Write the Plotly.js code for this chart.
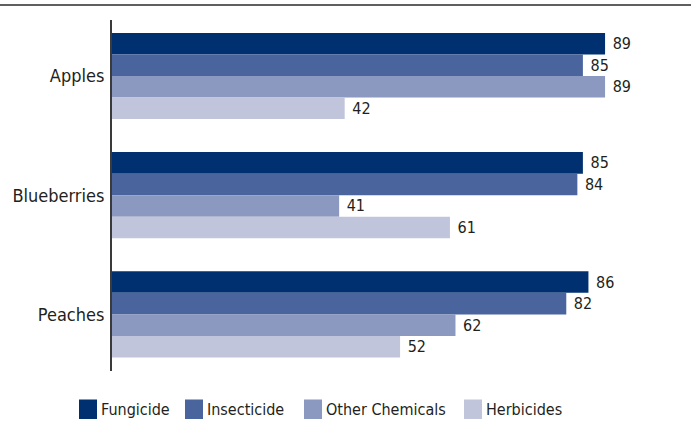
<!DOCTYPE html>
<html>
<head>
<meta charset="utf-8">
<script src="https://cdn.plot.ly/plotly-3.0.1.min.js"></script>
<style>html,body{margin:0;padding:0;background:#fff;}#chart{width:691px;height:441px;}
#chart text{font-stretch:condensed;}</style>
</head>
<body>
<div id="chart"></div>
<script>
const categories = ["Apples", "Blueberries", "Peaches"];
const seriesNames = ["Fungicide", "Insecticide", "Other Chemicals", "Herbicides"];
const fungicide = [89, 85, 86];
const insecticide = [85, 84, 82];
const otherChemicals = [89, 41, 62];
const herbicides = [42, 61, 52];
const seriesValues = [fungicide, insecticide, otherChemicals, herbicides];
const colors = ["#00306F", "#4A659D", "#8B98BF", "#C0C5DC"];

const FONT = "'DejaVu Sans Condensed', 'DejaVu Sans', sans-serif";
const TXT = "#231F20";

const W = 691, H = 441, ML = 112, MR = 25, MT = 20, MB = 70;
const PW = W - ML - MR, PH = H - MT - MB;
const px = x => (x - ML) / PW;
const py = y => (H - MB - y) / PH;

const traces = seriesNames.map((name, i) => ({
  type: "bar",
  orientation: "h",
  name: name,
  y: categories,
  x: seriesValues[i],
  text: seriesValues[i].map(v => "\u00a0" + v),
  textposition: "outside",
  cliponaxis: false,
  textfont: {family: FONT, size: 16, color: TXT},
  marker: {color: colors[i], line: {width: 0}},
  hoverinfo: "skip"
}));

// custom legend
const legendSquareX = [79, 185, 304, 464];
const shapes = [
  {type: "line", xref: "paper", yref: "paper", x0: px(0), x1: px(W), y0: py(5), y1: py(5),
   line: {color: "#5f5f5f", width: 2}}
];
const annotations = [];
seriesNames.forEach((name, i) => {
  const x0 = legendSquareX[i];
  shapes.push({type: "rect", xref: "paper", yref: "paper",
    x0: px(x0), x1: px(x0 + 18), y0: py(399.5), y1: py(419),
    fillcolor: colors[i], line: {width: 0}});
  annotations.push({xref: "paper", yref: "paper", x: px(x0 + 20), y: py(409.5),
    xanchor: "left", yanchor: "middle", showarrow: false, text: name,
    font: {family: FONT, size: 16, color: TXT}});
});

const layout = {
  width: W, height: H,
  margin: {l: ML, r: MR, t: MT, b: MB, pad: 0},
  paper_bgcolor: "#fff", plot_bgcolor: "#fff",
  barmode: "group", bargap: 0.277, bargroupgap: 0,
  showlegend: false,
  font: {family: FONT, color: TXT},
  xaxis: {range: [0, 100], showgrid: false, zeroline: false, showline: false,
    showticklabels: false, ticks: "", fixedrange: true},
  yaxis: {type: "category", range: [2.475, -0.47], showgrid: false, zeroline: false,
    showline: true, linecolor: "#3a3a3a", linewidth: 2, ticks: "",
    tickfont: {family: FONT, size: 18, color: TXT}, ticklabelstandoff: 2, fixedrange: true},
  shapes: shapes,
  annotations: annotations
};

Plotly.newPlot("chart", traces, layout, {displayModeBar: false, staticPlot: true});
</script>
</body>
</html>
